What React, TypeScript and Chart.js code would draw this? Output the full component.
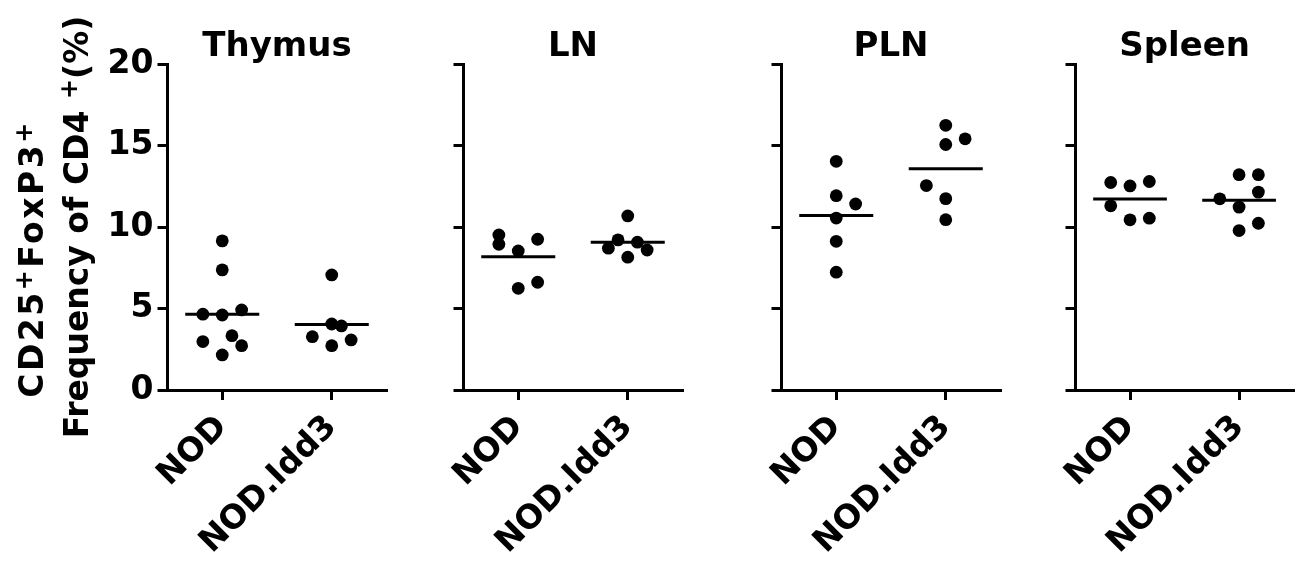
import React, { useEffect, useRef } from 'react';
import { Chart, registerables } from 'chart.js';

Chart.register(...registerables);

// ---------- data ----------
const panelTitles = ['Thymus', 'LN', 'PLN', 'Spleen'];
const groupLabels = ['NOD', 'NOD.Idd3'];
const yTickValues = [0, 5, 10, 15, 20];

// values (%) and beeswarm column index of every dot
const thymusNOD = [9.15, 7.37, 4.65, 4.6, 4.91, 2.97, 3.33, 2.72, 2.15];
const thymusNODCols = [0, 0, -1, 0, 1, -1, 0.5, 1, 0];
const thymusIdd3 = [7.06, 4.05, 3.93, 3.27, 2.72, 3.07];
const thymusIdd3Cols = [0, 0, 0.5, -1, 0, 1];

const lnNOD = [9.51, 8.94, 9.25, 8.53, 6.24, 6.61];
const lnNODCols = [-1, -1, 1, 0, 0, 1];
const lnIdd3 = [10.68, 9.21, 9.07, 8.7, 8.59, 8.15];
const lnIdd3Cols = [0, -0.5, 0.5, -1, 1, 0];

const plnNOD = [14.03, 11.92, 11.41, 10.55, 9.12, 7.23];
const plnNODCols = [0, 0, 1, 0, 0, 0];
const plnIdd3 = [16.24, 15.06, 15.41, 12.54, 11.74, 10.45];
const plnIdd3Cols = [0, 0, 1, -1, 0, 0];

const spleenNOD = [12.73, 12.52, 12.79, 11.3, 10.44, 10.54];
const spleenNODCols = [-1, 0, 1, -1, 0, 1];
const spleenIdd3 = [13.21, 13.21, 12.14, 11.73, 11.22, 9.78, 10.23];
const spleenIdd3Cols = [0, 1, 1, -1, 0, 0, 1];

// ---------- style / layout ----------
const FONT = "'DejaVu Sans', 'Liberation Sans', Arial, sans-serif";
const DOT_STEP = 0.177;
const MEAN_HALF = 0.338;

const panelLayout = [
  { left: 0, width: 420, yWidth: 167.5, padRight: 33.5 },
  { left: 420, width: 300, yWidth: 43.5, padRight: 37.5 },
  { left: 720, width: 300, yWidth: 61.5, padRight: 19.5 },
  { left: 1020, width: 280, yWidth: 55.5, padRight: 5.5 },
];

const mean = (a: number[]) => a.reduce((s, v) => s + v, 0) / a.length;
const toPoints = (vals: number[], cols: number[], center: number) =>
  vals.map((v, i) => ({ x: center + cols[i] * DOT_STEP, y: v }));

const panelTitlePlugin = {
  id: 'panelTitle',
  afterDraw(chart: any, _args: any, opts: any) {
    const { ctx, chartArea } = chart;
    ctx.save();
    ctx.fillStyle = '#000';
    ctx.font = `bold 34px ${FONT}`;
    ctx.textAlign = 'center';
    ctx.textBaseline = 'alphabetic';
    ctx.fillText(opts.text, (chartArea.left + chartArea.right) / 2, 56);
    ctx.restore();
  },
};

const yTitlePlugin = {
  id: 'yTitle',
  afterDraw(chart: any) {
    const ctx = chart.ctx;
    const big = `bold 33px ${FONT}`;
    const small = `bold 24px ${FONT}`;
    const lines: { parts: [string, boolean][]; baseX: number; centerY: number; spacing: number }[] = [
      { parts: [['CD25', false], ['+', true], ['FoxP3', false], ['+', true]], baseX: 43, centerY: 259, spacing: 2.5 },
      { parts: [['Frequency of CD4 ', false], ['+', true], ['(%)', false]], baseX: 88, centerY: 227, spacing: 0 },
    ];
    ctx.save();
    ctx.fillStyle = '#000';
    ctx.textBaseline = 'alphabetic';
    ctx.textAlign = 'left';
    for (const line of lines) {
      try {
        (ctx as any).letterSpacing = `${line.spacing}px`;
      } catch (e) {}
      let total = 0;
      const widths = line.parts.map(([t, sup]) => {
        ctx.font = sup ? small : big;
        const w = ctx.measureText(t).width;
        total += w;
        return w;
      });
      ctx.save();
      ctx.translate(line.baseX, line.centerY);
      ctx.rotate(-Math.PI / 2);
      let x = -total / 2;
      line.parts.forEach(([t, sup], i) => {
        ctx.font = sup ? small : big;
        ctx.fillText(t, x, sup ? -11 : 0);
        x += widths[i];
      });
      ctx.restore();
    }
    try {
      (ctx as any).letterSpacing = '0px';
    } catch (e) {}
    ctx.restore();
  },
};

type PanelProps = {
  idx: number;
  nod: number[];
  nodCols: number[];
  idd3: number[];
  idd3Cols: number[];
};

function Panel({ idx, nod, nodCols, idd3, idd3Cols }: PanelProps) {
  const ref = useRef<HTMLCanvasElement | null>(null);
  const lay = panelLayout[idx];
  useEffect(() => {
    if (!ref.current) return;
    const m1 = mean(nod);
    const m2 = mean(idd3);
    const dotStyle = {
      pointRadius: 6.4,
      pointBackgroundColor: '#000',
      pointBorderWidth: 0,
      pointBorderColor: '#000',
      showLine: false,
    };
    const lineStyle = {
      borderColor: '#000',
      borderWidth: 3,
      pointRadius: 0,
      showLine: true,
    };
    const grid = {
      display: true,
      drawOnChartArea: false,
      drawTicks: true,
      tickLength: 10,
      tickWidth: 3,
      tickColor: '#000',
      color: '#000',
      lineWidth: 3,
    };
    const border = { display: true, color: '#000', width: 3 };
    const tickFont = { family: FONT, size: 33, weight: 'bold' as const };
    const chart = new Chart(ref.current, {
      type: 'scatter',
      data: {
        datasets: [
          { data: toPoints(nod, nodCols, 1), ...dotStyle },
          { data: toPoints(idd3, idd3Cols, 2), ...dotStyle },
          { data: [{ x: 1 - MEAN_HALF, y: m1 }, { x: 1 + MEAN_HALF, y: m1 }], ...lineStyle },
          { data: [{ x: 2 - MEAN_HALF, y: m2 }, { x: 2 + MEAN_HALF, y: m2 }], ...lineStyle },
        ] as any,
      },
      options: {
        responsive: false,
        animation: false,
        layout: { padding: { left: 0, right: lay.padRight, top: 64, bottom: 0 } },
        plugins: {
          legend: { display: false },
          tooltip: { enabled: false },
          title: { display: false },
          panelTitle: { text: panelTitles[idx] },
        } as any,
        scales: {
          x: {
            type: 'linear',
            min: 0.5,
            max: 2.5,
            position: 'bottom',
            afterBuildTicks: (s: any) => {
              s.ticks = [{ value: 1 }, { value: 2 }];
            },
            afterFit: (s: any) => {
              s.height = 175;
            },
            ticks: {
              callback: (v: any) => groupLabels[Math.round(v) - 1] ?? '',
              minRotation: 45,
              maxRotation: 45,
              autoSkip: false,
              color: '#000',
              font: tickFont,
              padding: 8,
            },
            grid,
            border,
          },
          y: {
            type: 'linear',
            min: 0,
            max: 20,
            afterBuildTicks: (s: any) => {
              s.ticks = yTickValues.map((v) => ({ value: v }));
            },
            afterFit: (s: any) => {
              s.width = lay.yWidth;
            },
            ticks: {
              display: idx === 0,
              color: '#000',
              font: tickFont,
              padding: 4,
            },
            grid,
            border,
          },
        } as any,
      },
      plugins: idx === 0 ? [panelTitlePlugin, yTitlePlugin] : [panelTitlePlugin],
    });
    return () => chart.destroy();
  }, []);
  return (
    <canvas
      ref={ref}
      width={lay.width}
      height={565}
      style={{ position: 'absolute', left: lay.left, top: 0, width: lay.width, height: 565 }}
    />
  );
}

export default function App() {
  return (
    <div style={{ position: 'absolute', left: 0, top: 0, width: 1300, height: 565, background: '#fff' }}>
      <Panel idx={0} nod={thymusNOD} nodCols={thymusNODCols} idd3={thymusIdd3} idd3Cols={thymusIdd3Cols} />
      <Panel idx={1} nod={lnNOD} nodCols={lnNODCols} idd3={lnIdd3} idd3Cols={lnIdd3Cols} />
      <Panel idx={2} nod={plnNOD} nodCols={plnNODCols} idd3={plnIdd3} idd3Cols={plnIdd3Cols} />
      <Panel idx={3} nod={spleenNOD} nodCols={spleenNODCols} idd3={spleenIdd3} idd3Cols={spleenIdd3Cols} />
    </div>
  );
}
